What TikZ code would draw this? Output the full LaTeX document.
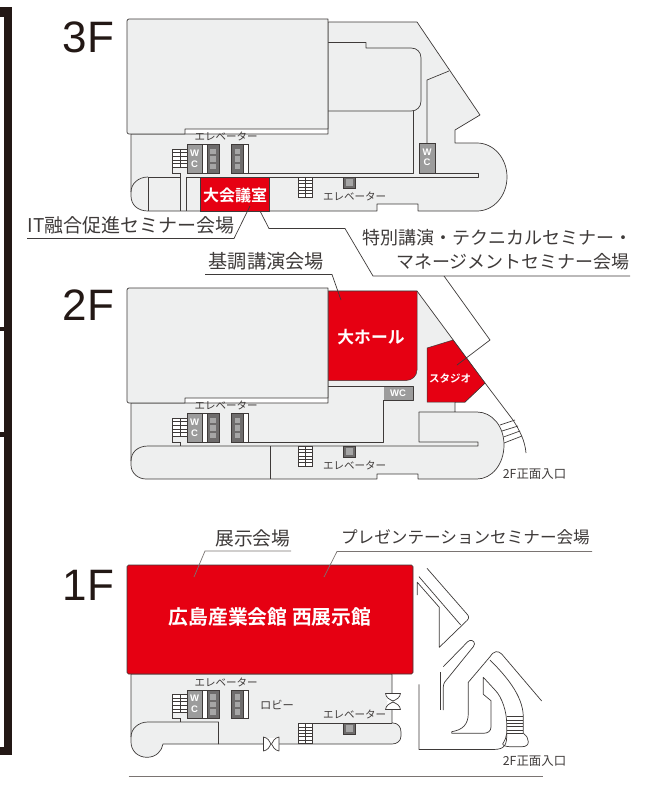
\documentclass[tikz,border=0pt]{standalone}
\usepackage{fontspec}
\setmainfont{Liberation Sans}
\newfontfamily\cjk[BoldFont={Noto Sans CJK JP Bold}]{Noto Sans CJK JP}
\definecolor{ln}{HTML}{3E3A39}
\definecolor{bar}{HTML}{231815}
\definecolor{bg}{HTML}{EEEFEF}
\definecolor{rd}{HTML}{E60012}
\definecolor{wcg}{HTML}{9C9C9C}
\definecolor{evd}{HTML}{6E6C6C}
\definecolor{evl}{HTML}{A6A6A6}
\definecolor{rule}{HTML}{7A7472}
\tikzset{
 x=1pt,y=-1pt,
 wall/.style={draw=ln,line width=0.7pt,line join=round},
 thin wall/.style={draw=ln,line width=0.55pt},
 leader/.style={draw=ln,line width=0.7pt},
 floorfill/.style={fill=bg,draw=ln,line width=0.7pt,line join=round},
 redroom/.style={fill=rd,draw=ln,line width=0.5pt},
 tiny label/.style={font=\cjk\fontsize{10.5}{11}\selectfont,text=ln,inner sep=0pt},
 entry label/.style={font=\cjk\fontsize{12.4}{13}\selectfont,text=ln,inner sep=0pt},
 big label/.style={font=\cjk\fontsize{18}{20}\selectfont,text=ln,inner sep=0pt},
 red label/.style={font=\cjk\bfseries\fontsize{16.8}{20}\selectfont,text=white,inner sep=0pt},
 wc label/.style={font=\bfseries\fontsize{9.5}{10}\selectfont,text=white,inner sep=0pt},
 floor label/.style={font=\fontsize{44}{44}\selectfont,text=bar,inner sep=0pt,anchor=east},
}
\newcommand{\shaft}[3]{%
 \draw[fill=evd,draw=ln,line width=0.6pt] (#1,144.5+#3) rectangle (#2,173+#3);
 \foreach \yy in {148.5,156,163.5}{\fill[evl] (#1+3,\yy+#3) rectangle (#2-3,\yy+5.8+#3);}
}
\newcommand{\upstairs}[1]{%
 \draw[thin wall,fill=white] (172.7,149+#1) rectangle (187,167+#1);
 \foreach \yy in {152.6,156.2,159.8,163.4}{\draw[thin wall] (172.7,\yy+#1) -- (187,\yy+#1);}
 \draw[thin wall] (180,149+#1) -- (180,167+#1);
 \draw[thin wall] (172.7,167+#1) -- (172.7,173+#1) -- (180.5,173+#1);
}
\newcommand{\midstairs}[1]{%
 \draw[thin wall,fill=white] (297.8,177+#1) rectangle (312.7,197+#1);
 \foreach \yy in {180.3,183.6,186.9,190.2,193.5}{\draw[thin wall] (297.8,\yy+#1) -- (312.7,\yy+#1);}
 \draw[thin wall] (305.2,177+#1) -- (305.2,197+#1);
}
\newcommand{\smallev}[1]{%
 \draw[fill=evd,draw=ln,line width=0.6pt] (343.5,177+#1) rectangle (355,188+#1);
 \fill[evl] (346,178.5+#1) rectangle (352.5,185.5+#1);
}
\newcommand{\core}[1]{%
 \draw[fill=wcg,draw=ln,line width=0.6pt] (187,144.5+#1) rectangle (202,173+#1);
 \draw[fill=white,draw=ln,line width=0.6pt] (202,144.5+#1) rectangle (207,173+#1);
 \shaft{207}{219}{#1}
 \shaft{231.5}{243}{#1}
 \draw[fill=white,draw=ln,line width=0.6pt] (243,144.5+#1) rectangle (248,173+#1);
 \upstairs{#1}
}
\begin{document}
\begin{tikzpicture}
\useasboundingbox (0,0) rectangle (648,796);
% left bar
\fill[bar] (3.5,6.5) rectangle (12.3,755);
\fill[bar] (0,6.5) rectangle (12,17);
\fill[bar] (0,747) rectangle (12,755);
\fill[bar] (0,326.5) rectangle (4,331);
\fill[bar] (0,432) rectangle (4,436.5);
% floor labels
\node[floor label] (f3) at (114.5,37) {3F};
\node[floor label] (f2) at (114.5,305.5) {2F};
\node[floor label] (f1) at (114.5,585) {1F};

%%% 3F
\path[floorfill] (131,134) -- (131,196) .. controls (131,205) and (138,211) .. (148,211)
  -- (377,211) -- (377,204) -- (418,204) -- (418,211) -- (477,211)
  .. controls (493.5,211) and (507,196) .. (507,177) .. controls (507,158) and (493.5,143) .. (477,143)
  -- (455,143) -- (455,130) -- (480,115) -- (417,22) -- (328,22) -- (328,134) -- cycle;
\draw[wall] (131,192) .. controls (131,184) and (138,177) .. (148,177);
\draw[wall] (328,42.5) -- (366,42.5) -- (366,48) -- (411,48) .. controls (417,48) and (421,52) .. (421,58)
  -- (421,101) .. controls (421,107) and (417,111) .. (411,111) -- (328,111);
\draw[wall] (413,111) -- (413,173) -- (248,173);
\draw[wall] (449,71) -- (427,80) -- (427,143.5);
\draw[wall] (435,173) -- (478,173) -- (478,177) -- (186,177) -- (186,211);
\draw[wall] (180.5,173) -- (180.5,177) -- (148,177);
\draw[wall] (180.5,177) -- (180.5,211);
\draw[wall] (148,177) -- (148,211);
\draw[fill=wcg,draw=ln,line width=0.6pt] (419.5,143.5) rectangle (435,173);
\node[wc label] (w3b) at (427,152) {W};
\node[wc label] (c3b) at (427,162) {C};
\draw[floorfill] (127,21) .. controls (127,20) and (128,19) .. (129,19) -- (328,19) -- (328,129) -- (185,129) -- (185,134) -- (129,134) .. controls (128,134) and (127,133) .. (127,132) -- cycle;
\core{0}
\node[wc label] (w3) at (194.5,153) {W};
\node[wc label] (c3) at (194.5,164) {C};
\midstairs{0}
\smallev{0}
\node[tiny label] (e3a) at (226,136.5) {エレベーター};
\node[tiny label] (e3b) at (354.5,196.5) {エレベーター};
\path[redroom] (200.5,177.5) rectangle (269.5,211);
\node[red label,font=\cjk\bfseries\fontsize{16}{17}\selectfont] (r3) at (235,195) {大会議室};
% 3F labels
\node[big label,anchor=west,font=\cjk\fontsize{19}{20}\selectfont] (l1) at (27.5,225) {IT融合促進セミナー会場};
\coordinate (l1a) at (27,238.5);
\coordinate (l1b) at (234,238.5);
\coordinate (l1c) at (250,206);
\draw[leader] (l1a) -- (l1b) -- (l1c);
\node[big label,anchor=west] (l2) at (362,238) {特別講演・テクニカルセミナー・};
\node[big label,anchor=east] (l3) at (630,262) {マネージメントセミナー会場};
\coordinate (l2a) at (260,211);
\coordinate (l2b) at (269,228.5);
\coordinate (l2c) at (345,228.5);
\coordinate (l2d) at (373,276);
\coordinate (l2e) at (630,276);
\coordinate (l2f) at (444,276);
\coordinate (l2g) at (490,340);
\coordinate (l2h) at (457,365);
\draw[leader] (l2a) -- (l2b) -- (l2c) -- (l2d) -- (l2e);

%%% 2F
\path[floorfill] (131,403) -- (131,465) .. controls (131,473) and (138,479) .. (146,479) -- (377,479) -- (377,474) -- (418,474) -- (418,479) -- (477,479)
  .. controls (492,479) and (504,464) .. (504,445) .. controls (504,426) and (492,412) .. (477,412)
  -- (419,412) -- (455,412) -- (455,402) -- (465,402) -- (485,383) -- (417,291) -- (328,291) -- (328,403) -- cycle;
\draw[wall] (131,461) .. controls (131,452) and (138,446) .. (148,446) -- (478,446) -- (478,442) -- (419,442) -- (419,412);
\draw[wall] (248,442) -- (383.5,442) -- (383.5,400);
\draw[wall] (270,446) -- (270,479);
\draw[wall] (180.5,442) -- (180.5,446);
\draw[wall] (485,383) -- (513,420) .. controls (520,431) and (525,441) .. (526,453);
\foreach \a/\b/\c/\d in {500/425/515/420, 502/431/518/426, 503.5/437/520/431, 504/443/522/436}{\draw[wall] (\a,\b) -- (\c,\d);}
\draw[redroom,draw=ln] (328,291) -- (417,291) -- (417,370) .. controls (417,376) and (412,380.5) .. (406,380.5) -- (328,380.5) -- cycle;
\node[red label] (r2) at (371,337) {大ホール};
\draw[redroom] (427,348) -- (453,340) -- (485,383) -- (465,402) -- (427,402) -- cycle;
\node[red label,font=\cjk\bfseries\fontsize{10.5}{12}\selectfont] (r2b) at (450,378) {スタジオ};
\draw[fill=wcg,draw=none] (383.5,386) rectangle (413,400.5);
\draw[wall] (328,386) -- (413,386) -- (413,400.5) -- (383.5,400.5);
\node[wc label] (w2b) at (398,393.5) {WC};
\draw[floorfill] (127,290) .. controls (127,289) and (128,288) .. (129,288) -- (328,288) -- (328,398) -- (185,398) -- (185,403) -- (129,403) .. controls (128,403) and (127,402) .. (127,401) -- cycle;
\core{269}
\node[wc label] (w2) at (194.5,422) {W};
\node[wc label] (c2) at (194.5,433) {C};
\midstairs{269}
\smallev{269}
\node[tiny label] (e2a) at (226,405.5) {エレベーター};
\node[tiny label] (e2b) at (354.5,465) {エレベーター};
\node[big label,anchor=west,font=\cjk\fontsize{19.2}{20}\selectfont] (l4) at (208.5,261.5) {基調講演会場};
\coordinate (l4a) at (205,274.5);
\coordinate (l4b) at (332,274.5);
\coordinate (l4c) at (341,300);
\draw[leader] (l4a) -- (l4b) -- (l4c);
\draw[leader] (l2f) -- (l2g) -- (l2h);
\node[entry label] (ent2) at (534.5,474) {2F正面入口};

%%% 1F
\path[floorfill] (131,674) -- (392,674) -- (392,723) -- (393,723) .. controls (398,723) and (401,727) .. (401,732)
  -- (401,736) .. controls (401,741) and (397,744) .. (392,744) -- (163,744) .. controls (162,751) and (156,757.3) .. (147,757.3)
  .. controls (138,757.3) and (131,751) .. (131,742) -- cycle;
\draw[wall] (131,737) .. controls (131,729) and (138,722) .. (148,722) -- (218.5,722) -- (218.5,744);
\draw[wall] (180.5,719) -- (180.5,722);
\draw[wall] (392,723) -- (313,723);
% doors
\fill[white] (386.5,693.5) rectangle (399.5,709.5);
\fill[white] (264,737.5) rectangle (279,750.5);
\fill[bg] (386,701) rectangle (388,702);
\draw[wall,fill=white] (385.5,693.5) -- (400.5,693.5) .. controls (400,698) and (396,699.5) .. (393,701) .. controls (390,699.5) and (386,698) .. (385.5,693.5) -- cycle;
\draw[wall,fill=white] (385.5,709.5) -- (400.5,709.5) .. controls (400,705) and (396,703.5) .. (393,702) .. controls (390,703.5) and (386,705) .. (385.5,709.5) -- cycle;
\draw[wall,fill=white] (263.5,737) -- (263.5,751) .. controls (268,750) and (269.5,747) .. (271,744) .. controls (269.5,741) and (268,738) .. (263.5,737) -- cycle;
\draw[wall,fill=white] (279,737) -- (279,751) .. controls (274.5,750) and (273,747) .. (271.5,744) .. controls (273,741) and (274.5,738) .. (279,737) -- cycle;
\fill[rd,draw=ln,line width=0.6pt,rounded corners=1.5pt] (127,565) rectangle (413,674);
\node[red label,font=\cjk\bfseries\fontsize{19.8}{21}\selectfont] (r1) at (270,617) {広島産業会館 西展示館};
\core{545.5}
\node[wc label] (w1) at (194.5,698.5) {W};
\node[wc label] (c1) at (194.5,709.5) {C};
\midstairs{546.5}
\smallev{546}
\node[tiny label] (e1a) at (226,682) {エレベーター};
\node[tiny label] (e1b) at (354.5,714) {エレベーター};
\node[tiny label,font=\cjk\fontsize{11.3}{12}\selectfont] (lobby) at (277,705) {ロビー};
\node[big label,anchor=west,font=\cjk\fontsize{18.8}{20}\selectfont] (l5) at (215,538) {展示会場};
\node[big label,anchor=east,font=\cjk\fontsize{16.6}{20}\selectfont] (l6) at (590,537) {プレゼンテーションセミナー会場};
\coordinate (l5a) at (291,551);
\coordinate (l5b) at (205,551);
\coordinate (l5c) at (194,577);
\coordinate (l6a) at (592,551.5);
\coordinate (l6b) at (337,551.5);
\coordinate (l6c) at (324,577);
\draw[leader,rule] (l5a) -- (l5b) -- (l5c);
\draw[leader,rule] (l6a) -- (l6b) -- (l6c);
% outside structures
\draw[wall] (427,568.3) -- (466.5,613.5) .. controls (469,616) and (469.5,618) .. (467,620.5) -- (439.3,647.3) -- (439.3,607.3) -- (417.3,582.3) -- (417.3,595);
\draw[wall] (419,576.7) -- (460.7,625);
\draw[wall] (443.3,666.7) -- (467.7,641.7) .. controls (470,639.5) and (474.5,640) .. (474.5,644) .. controls (474.5,645.5) and (474,646) .. (473.3,646.7) -- (445,681.7) .. controls (444,683) and (443.3,685) .. (443.3,687) -- (443.3,710);
\draw[wall] (440.3,672.3) -- (440.3,710);
\draw[wall] (541.7,701) -- (501.7,654) .. controls (498,650.5) and (494,650.5) .. (490,656.7) -- (468.3,682.3) -- (468.3,713.3) .. controls (468.3,725) and (462,730) .. (451.7,731.7) -- (451.7,733.3) -- (483.3,733.3) .. controls (488,733.3) and (491,731) .. (491,727) -- (491,700.7) -- (483.3,694.3) -- (483.3,677.3) -- (495,690) .. controls (502,697) and (507,712) .. (506.7,725) -- (506.7,733.3) .. controls (507,745) and (505,749.5) .. (493,749.5) -- (419,749.5) -- (419,684.3);
\draw[wall] (490,660) .. controls (505,675) and (523,695) .. (523.3,716.7) -- (523.3,733.3);
\foreach \yy in {716.7,720,723.3,726.6,730,733.3}{\draw[wall] (506.7,\yy) -- (523.3,\yy);}
\draw[wall] (523.3,733.3) .. controls (527,736) and (528.3,739) .. (528.3,741.7) .. controls (528.3,745) and (526,746.7) .. (522,746.7) -- (510,746.7) .. controls (506,746.7) and (503,745.5) .. (502.7,744) .. controls (505,740) and (506.5,737) .. (506.7,733.3);
\node[entry label] (ent1) at (534.5,761) {2F正面入口};
\coordinate (b1) at (128.5,776);
\coordinate (b2) at (542.5,776);
\draw[rule,line width=1pt] (b1) -- (b2);
\end{tikzpicture}
\end{document}
